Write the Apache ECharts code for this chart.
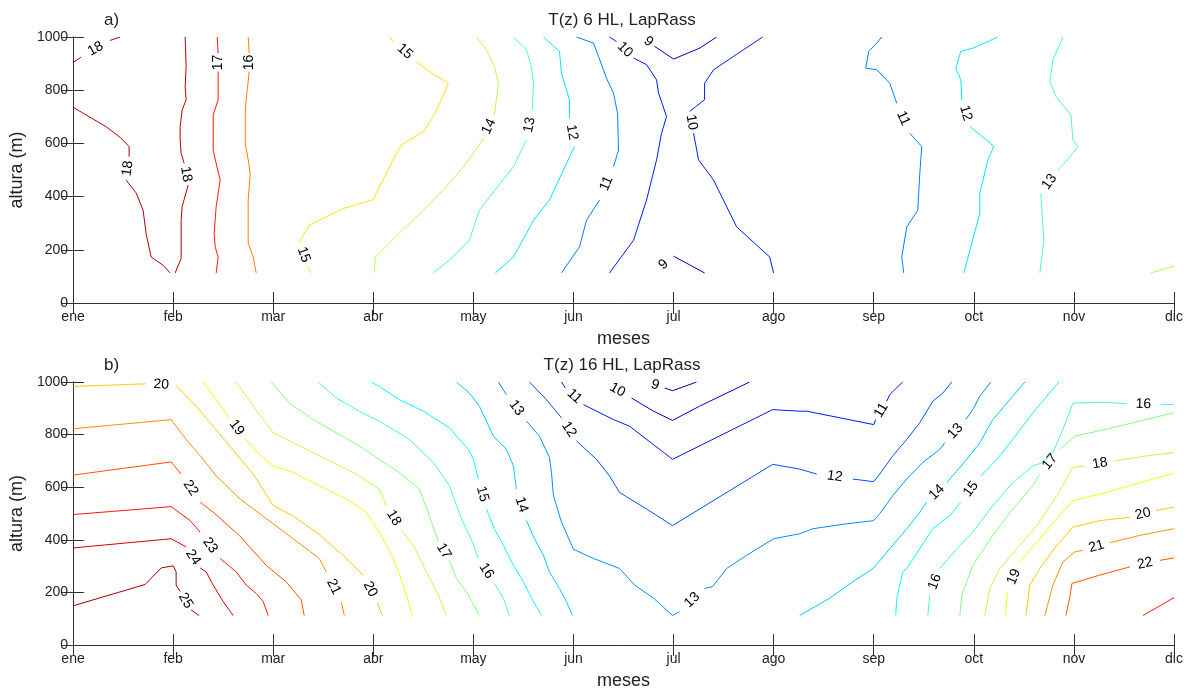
<!DOCTYPE html>
<html>
<head>
<meta charset="utf-8">
<script src="https://cdn.jsdelivr.net/npm/echarts@6/dist/echarts.min.js"></script>
<style>html,body{margin:0;padding:0;background:#fff;}#c{width:1193px;height:691px;}</style>
</head>
<body>
<div id="c"></div>
<script>
// ---------- tick labels ----------
const months = ['ene','feb','mar','abr','may','jun','jul','ago','sep','oct','nov','dic'];
const altTicks = [0, 200, 400, 600, 800, 1000];

// ---------- panel a) contour lines: [month index, altitude m]; null = label gap ----------
const a18_1 = [[0,904],[0.08,924],null,[0.37,987],[0.47,1000]];
const a18_2 = [[0,736],[0.13,707],[0.33,663],[0.47,623],[0.56,588],[0.56,550],null,[0.53,462],[0.63,414],[0.70,349],[0.73,261],[0.78,173],[0.90,142],[0.97,113]];
const a18_3 = [[1.02,113],[1.08,167],[1.08,311],[1.09,362],[1.15,443],null,[1.11,525],[1.08,563],[1.07,613],[1.07,663],[1.09,726],[1.13,764],[1.12,814],[1.13,889],[1.12,1000]];
const a17 = [[1.44,1000],[1.45,939],null,[1.45,870],[1.45,764],[1.40,707],[1.40,575],[1.43,525],[1.47,462],[1.43,362],[1.41,261],[1.42,211],[1.45,173],[1.43,113]];
const a16 = [[1.75,1000],[1.76,939],null,[1.76,870],[1.73,764],[1.72,713],[1.72,600],[1.75,538],[1.77,487],[1.75,387],[1.75,224],[1.80,173],[1.83,113]];
const a15 = [[2.38,113],[2.35,135],null,[2.26,228],[2.36,293],[2.70,355],[3.00,389],[3.06,437],[3.13,487],[3.20,540],[3.28,594],[3.50,644],[3.60,701],[3.68,764],[3.75,826],[3.56,870],[3.43,908],null,[3.20,983],[3.16,1000]];
const a14_1 = [[3.01,113],[3.02,172],[3.26,262],[3.50,349],[3.73,437],[3.93,525],[4.10,619],null,[4.21,707],[4.25,826],[4.21,889],[4.13,952],[4.03,1000]];
const a13_1 = [[3.60,113],[3.76,161],[3.96,236],[4.06,349],[4.23,431],[4.40,512],[4.53,613],null,[4.59,726],[4.60,826],[4.58,889],[4.53,952],[4.40,1000]];
const a12_1 = [[4.22,113],[4.40,173],[4.53,261],[4.60,311],[4.76,387],[4.90,500],[5.01,588],null,[4.96,695],[4.96,764],[4.88,864],[4.86,946],[4.70,1000]];
const a11_1 = [[4.88,113],[5.06,211],[5.13,311],[5.26,387],null,[5.40,512],[5.45,575],[5.44,713],[5.40,789],[5.33,845],[5.25,927],[5.20,977],[5.03,1000]];
const a10_1 = [[5.36,113],[5.60,236],[5.73,387],[5.83,538],[5.88,638],[5.93,701],[5.85,789],[5.83,839],[5.73,896],[5.60,921],null,[5.43,983],[5.36,1000]];
const a10_2 = [[7.00,113],[6.96,173],[6.63,286],[6.40,462],[6.25,538],[6.20,638],null,[6.16,720],[6.31,764],[6.31,826],[6.40,877],[6.89,1000]];
const a9_1 = [[5.69,1000],null,[5.81,965],[6.00,917],[6.26,958],[6.43,1000]];
const a9_2 = [[5.80,113],null,[6.00,176],[6.31,113]];
const a11_2 = [[8.30,113],[8.28,173],[8.33,286],[8.44,349],[8.46,487],[8.48,588],[8.36,638],null,[8.23,751],[8.16,826],[8.03,877],[7.92,883],[7.95,946],[8.03,977],[8.08,1000]];
const a12_2 = [[8.90,113],[8.97,211],[9.06,337],[9.06,412],[9.14,538],[9.20,588],[9.09,625],[8.96,663],null,[8.88,764],[8.87,839],[8.82,883],[8.87,946],[8.99,958],[9.24,1000]];
const a13_2 = [[9.66,113],[9.70,236],[9.67,412],null,[9.84,500],[9.96,550],[10.04,588],[9.99,613],[9.97,707],[9.82,776],[9.76,833],[9.79,914],[9.89,1000]];
const a14_2 = [[10.77,113],[11.0,139]];

const linesA  = [a18_1,a18_2,a18_3,a17,a16,a15,a14_1,a13_1,a12_1,a11_1,a10_1,a10_2,a9_1,a9_2,a11_2,a12_2,a13_2,a14_2];
const levelsA = [18,18,18,17,16,15,14,13,12,11,10,10,9,9,11,12,13,14];

// ---------- panel b) contour lines ----------
const b25 = [[0,149],[0.72,230],[0.88,293],[1.00,301],[1.03,278],[1.03,228],[1.07,203],null,[1.18,133],[1.26,112]];
const b24 = [[0,369],[0.98,404],[1.13,373],null,[1.27,293],[1.33,278],[1.40,228],[1.50,165],[1.60,112]];
const b23 = [[0,496],[0.98,526],[1.17,473],[1.27,429],null,[1.47,329],[1.63,278],[1.73,228],[1.83,196],[1.90,165],[1.95,112]];
const b22 = [[0,646],[0.98,696],[1.08,650],null,[1.27,543],[1.40,505],[1.66,417],[1.93,303],[2.13,240],[2.28,171],[2.31,112]];
const b21 = [[0,822],[0.98,857],[1.13,782],[1.30,706],[1.43,643],[1.67,555],[2.00,461],[2.20,404],[2.46,329],[2.53,278],null,[2.68,165],[2.71,112]];
const b20 = [[0,983],[0.73,993],null,[1.03,987],[1.20,920],[1.40,832],[1.60,740],[1.80,650],[2.00,530],[2.20,490],[2.46,420],[2.70,340],[2.90,265],null,[3.04,160],[3.09,112]];
const b19 = [[1.30,1000],[1.43,933],[1.56,864],null,[1.71,788],[1.86,725],[2.00,681],[2.20,656],[2.46,606],[2.73,555],[2.93,505],[3.06,429],[3.20,329],[3.30,228],[3.39,112]];
const b18 = [[1.63,1000],[1.80,908],[2.00,807],[2.20,769],[2.46,719],[2.80,656],[3.06,593],[3.13,530],null,[3.28,436],[3.40,379],[3.53,278],[3.65,190],[3.73,112]];
const b17 = [[1.98,1000],[2.16,920],[2.40,857],[2.63,807],[2.86,757],[3.06,706],[3.26,656],[3.46,593],[3.56,492],[3.65,392],null,[3.76,322],[3.83,253],[3.93,203],[4.06,112]];
const b16 = [[2.45,1000],[2.63,939],[2.86,889],[3.06,851],[3.36,782],[3.60,694],[3.76,606],[3.88,480],[3.99,392],[4.05,329],null,[4.21,234],[4.30,178],[4.36,112]];
const b15 = [[2.98,1000],[3.06,983],[3.26,933],[3.50,889],[3.76,826],[3.86,782],[3.95,744],[4.00,706],[4.05,631],null,[4.13,517],[4.21,442],[4.30,379],[4.40,303],[4.50,240],[4.60,165],[4.68,112]];
const b14 = [[3.83,1000],[3.96,958],[4.06,908],[4.20,794],[4.33,744],[4.40,681],[4.43,593],null,[4.53,473],[4.61,404],[4.70,341],[4.76,278],[4.86,215],[4.93,165],[4.99,112]];
const b13 = [[4.25,1000],[4.33,952],null,[4.53,851],[4.66,794],[4.76,713],[4.78,656],[4.80,568],[4.88,467],[5.00,364],[5.20,329],[5.46,291],[5.61,228],[5.80,178],[5.99,112],[6.06,127],null,[6.31,215],[6.39,222],[6.53,291],[6.73,341],[7.00,404],[7.26,423],[7.39,442],[7.73,461],[8.00,473],[8.06,499],[8.19,568],[8.33,631],[8.49,694],[8.66,744],[8.71,769],null,[8.92,857],[8.99,895],[9.06,946],[9.17,1000]];
const b12 = [[4.56,1000],[4.73,933],[4.88,864],null,[5.03,776],[5.23,706],[5.36,643],[5.46,580],[5.73,517],[5.99,454],[6.99,687],[7.26,669],[7.43,650],null,[7.79,631],[8.00,621],[8.06,650],[8.19,719],[8.33,782],[8.46,845],[8.59,927],[8.69,958],[8.78,1000]];
const b11 = [[4.88,1000],[4.92,977],null,[5.10,914],[5.40,857],[5.56,832],[5.99,706],[6.99,895],[7.26,889],[7.33,889],[7.66,864],[8.00,838],[8.02,857],null,[8.13,927],[8.16,952],[8.21,971],[8.29,1000]];
const b10 = [[5.30,1000],null,[5.58,939],[5.80,889],[5.99,854],[6.26,908],[6.76,1000]];
const b9  = [[5.72,1000],null,[5.91,977],[5.99,967],[6.23,1000]];
const b14r = [[7.26,112],[7.56,178],[7.79,240],[8.00,293],[8.16,366],[8.33,442],[8.46,505],[8.53,543],null,[8.73,618],[8.93,706],[9.06,769],[9.19,857],[9.39,946],[9.51,1000]];
const b15r = [[8.22,112],[8.23,178],[8.29,278],[8.33,291],[8.46,366],[8.59,442],[8.76,492],[8.87,543],null,[9.07,643],[9.23,706],[9.39,782],[9.59,883],[9.73,946],[9.85,1000]];
const b16r = [[8.54,112],[8.56,190],null,[8.66,291],[8.83,366],[8.99,429],[9.19,530],[9.39,618],[9.59,681],[9.69,694],[9.79,731],[9.89,820],[9.99,920],[10.26,923],[10.52,918],null,[10.87,914],[11.0,914]];
const b17r = [[8.86,112],[8.88,190],[8.99,303],[9.19,417],[9.39,517],[9.59,606],[9.66,650],null,[9.86,744],[10.01,794],[10.32,820],[10.72,857],[11.0,883]];
const b18r = [[9.11,112],[9.16,215],[9.26,291],[9.46,379],[9.63,454],[9.83,568],[9.99,675],[10.11,681],null,[10.41,700],[10.72,719],[11.0,731]];
const b19r = [[9.31,112],[9.34,203],null,[9.46,316],[9.63,392],[9.83,480],[9.99,549],[10.26,574],[10.56,606],[10.79,631],[11.0,653]];
const b20r = [[9.52,112],[9.56,228],[9.66,291],[9.83,379],[9.99,448],[10.26,473],[10.56,486],null,[10.82,511],[11.0,524]];
const b21r = [[9.71,112],[9.79,228],[9.89,316],[10.01,354],[10.09,360],null,[10.36,389],[10.66,417],[11.0,442]];
const b22r = [[9.92,112],[9.96,184],[9.98,234],[10.26,266],[10.56,297],null,[10.86,322],[11.0,331]];
const b23r = [[10.69,112],[11.0,180]];

const linesB  = [b25,b24,b23,b22,b21,b20,b19,b18,b17,b16,b15,b14,b13,b12,b11,b10,b9,b14r,b15r,b16r,b17r,b18r,b19r,b20r,b21r,b22r,b23r];
const levelsB = [25,24,23,22,21,20,19,18,17,16,15,14,13,12,11,10,9,14,15,16,17,18,19,20,21,22,23];

const climA = [8.5, 18.5];
const climB = [8.5, 25.5];

// ---------- helpers ----------
const FONT = '"Liberation Sans", Arial, Helvetica, sans-serif';
const AX = '#333';
function jet(v, lo, hi) {
  const t = (v - lo) / (hi - lo);
  const c = x => Math.round(255 * Math.max(0, Math.min(1, 1.5 - Math.abs(4 * t - x))));
  return 'rgb(' + c(3) + ',' + c(2) + ',' + c(1) + ')';
}

const series = [];
function addPanel(lines, levels, clim, gi) {
  const xi = gi * 2, yi = gi * 2;
  const labels = [];
  lines.forEach((ln, k) => {
    const col = jet(levels[k], clim[0], clim[1]);
    let seg = [];
    const segs = [];
    for (let i = 0; i < ln.length; i++) {
      if (ln[i] === null) {
        segs.push(seg); seg = [];
        labels.push([ln[i - 1][0], ln[i - 1][1], ln[i + 1][0], ln[i + 1][1], levels[k]]);
      } else seg.push(ln[i]);
    }
    segs.push(seg);
    segs.forEach(s => {
      if (s.length < 2) return;
      series.push({
        type: 'line', xAxisIndex: xi, yAxisIndex: yi, data: s,
        symbol: 'none', showSymbol: false, silent: true, animation: false,
        lineStyle: { color: col, width: 1 }, z: 2
      });
    });
  });
  series.push({
    type: 'custom', xAxisIndex: xi, yAxisIndex: yi, data: labels, silent: true, animation: false, z: 5,
    renderItem: function (params, api) {
      const p1 = api.coord([api.value(0), api.value(1)]);
      const p2 = api.coord([api.value(2), api.value(3)]);
      let ang = Math.atan2(-(p2[1] - p1[1]), p2[0] - p1[0]);
      if (ang > Math.PI / 2) ang -= Math.PI;
      if (ang <= -Math.PI / 2) ang += Math.PI;
      return {
        type: 'text', x: (p1[0] + p2[0]) / 2, y: (p1[1] + p2[1]) / 2, rotation: ang,
        style: { text: String(api.value(4)), fill: '#000', fontSize: 14, fontFamily: FONT, align: 'center', verticalAlign: 'middle' }
      };
    }
  });
}
addPanel(linesA, levelsA, climA, 0);
addPanel(linesB, levelsB, climB, 1);

function xAxes(gi) {
  const base = {
    type: 'value', gridIndex: gi, min: 0, max: 11, interval: 1,
    axisLine: { show: true, lineStyle: { color: AX, width: 1 } },
    axisTick: { show: true, inside: true, length: 11, lineStyle: { color: AX } },
    splitLine: { show: false }
  };
  return [
    Object.assign({}, base, {
      position: 'bottom',
      axisLabel: { show: true, margin: 7, color: '#222', fontSize: 14, fontFamily: FONT, formatter: v => months[Math.round(v)] },
      name: 'meses', nameLocation: 'middle', nameGap: 27,
      nameTextStyle: { color: '#222', fontSize: 18, fontFamily: FONT }
    }),
    Object.assign({}, base, { position: 'top', axisLabel: { show: false } })
  ];
}
function yAxes(gi) {
  const base = {
    type: 'value', gridIndex: gi, min: altTicks[0], max: altTicks[altTicks.length - 1], interval: 200,
    axisLine: { show: true, lineStyle: { color: AX, width: 1 } },
    axisTick: { show: true, inside: true, length: 11, lineStyle: { color: AX } },
    splitLine: { show: false }
  };
  return [
    Object.assign({}, base, {
      position: 'left',
      axisLabel: { show: true, margin: 5, color: '#222', fontSize: 14, fontFamily: FONT, formatter: v => String(v) },
      name: 'altura (m)', nameLocation: 'middle', nameGap: 40,
      nameTextStyle: { color: '#222', fontSize: 18, fontFamily: FONT }
    }),
    Object.assign({}, base, { position: 'right', axisLabel: { show: false } })
  ];
}

const chart = echarts.init(document.getElementById('c'), null, { renderer: 'canvas' });
chart.setOption({
  backgroundColor: '#fff',
  animation: false,
  grid: [
    { left: 73, right: 19, top: 37, height: 266 },
    { left: 73, right: 19, top: 382, height: 265 }
  ],
  xAxis: xAxes(0).concat(xAxes(1)),
  yAxis: yAxes(0).concat(yAxes(1)),
  graphic: [
    { type: 'text', x: 104, y: 20, style: { text: 'a)', fontSize: 17, fontFamily: FONT, fill: '#222', verticalAlign: 'middle' } },
    { type: 'text', x: 622, y: 20, style: { text: 'T(z) 6 HL, LapRass', fontSize: 17, fontFamily: FONT, fill: '#222', align: 'center', verticalAlign: 'middle' } },
    { type: 'text', x: 104, y: 365, style: { text: 'b)', fontSize: 17, fontFamily: FONT, fill: '#222', verticalAlign: 'middle' } },
    { type: 'text', x: 622, y: 365, style: { text: 'T(z) 16 HL, LapRass', fontSize: 17, fontFamily: FONT, fill: '#222', align: 'center', verticalAlign: 'middle' } }
  ],
  series: series
});
</script>
</body>
</html>
